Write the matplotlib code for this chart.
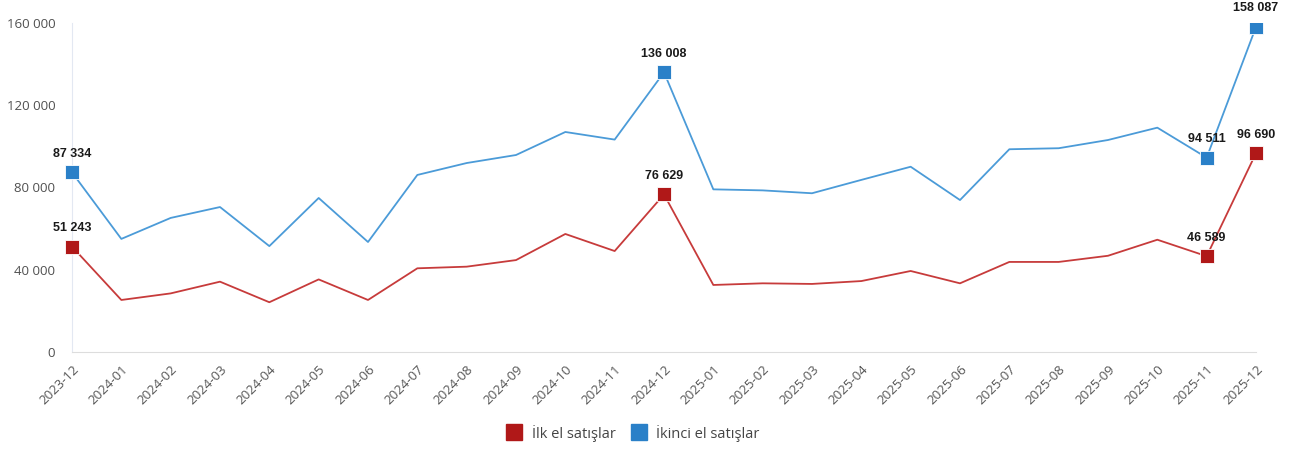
import matplotlib.pyplot as plt
import numpy as np
from matplotlib.lines import Line2D
from matplotlib.patches import Rectangle

months = ['2023-12', '2024-01', '2024-02', '2024-03', '2024-04', '2024-05', '2024-06',
          '2024-07', '2024-08', '2024-09', '2024-10', '2024-11', '2024-12', '2025-01',
          '2025-02', '2025-03', '2025-04', '2025-05', '2025-06', '2025-07', '2025-08',
          '2025-09', '2025-10', '2025-11', '2025-12']

ilk_el = [51243, 25300, 28500, 34200, 24200, 35300, 25300, 40700, 41500, 44700, 57400,
          49100, 76629, 32600, 33400, 33100, 34500, 39400, 33400, 43800, 43800, 46800,
          54600, 46589, 96690]

ikinci_el = [87334, 55000, 65200, 70500, 51500, 74900, 53500, 86100, 91900, 95800, 107000,
             103300, 136008, 79100, 78600, 77200, 83700, 90100, 73900, 98600, 99100, 103100,
             109100, 94511, 158087]

highlight = ['2023-12', '2024-12', '2025-11', '2025-12']
yticks = [0, 40000, 80000, 120000, 160000]

red_line, red_mark = '#c73b3b', '#b01818'
blue_line, blue_mark = '#4b9bd8', '#2a80c8'

fig = plt.figure(figsize=(13.01, 4.5), dpi=100)
ax = fig.add_axes([72/1301, 1 - 352/450, (1256 - 72)/1301, (352 - 23)/450])

x = np.arange(len(months))
ax.plot(x, ilk_el, color=red_line, lw=1.3)
ax.plot(x, ikinci_el, color=blue_line, lw=1.3)

# markers may spill left/right but get cut at the top edge
clip = Rectangle((-0.05, -0.05), 1.1, 1.05, transform=ax.transAxes, fill=False, visible=False)
ax.add_patch(clip)

def fmt(v):
    return f'{v:,}'.replace(',', ' ')

for m in highlight:
    i = months.index(m)
    for vals, col in ((ilk_el, red_mark), (ikinci_el, blue_mark)):
        mk, = ax.plot(i, vals[i], 's', ms=10, color=col, mec='#ffffff', mew=0.6, zorder=4)
        mk.set_clip_path(clip)
        ax.annotate(fmt(vals[i]), (i, vals[i]), xytext=(0, 9), textcoords='offset points',
                    ha='center', va='bottom', fontsize=9, fontweight='bold',
                    family='Liberation Sans', color='#1a1a1a', annotation_clip=False)

ax.set_xlim(0, len(months) - 1)
ax.set_ylim(0, 160000)
ax.set_xticks(x)
ax.set_xticklabels(months, rotation=45, ha='right', rotation_mode='anchor',
                   fontsize=9.5, color='#555555', family='Open Sans')
ax.set_yticks(yticks)
ax.set_yticklabels([fmt(v) for v in yticks], fontsize=9.5, color='#505050', family='Open Sans')
ax.tick_params(length=0)
ax.tick_params(axis='y', pad=12)
ax.tick_params(axis='x', pad=8)

for s in ('top', 'right'):
    ax.spines[s].set_visible(False)
ax.spines['left'].set_color('#e3e8f2')
ax.spines['bottom'].set_color('#dddddd')

handles = [Line2D([], [], ls='', marker='s', ms=11, color=red_mark, label='İlk el satışlar'),
           Line2D([], [], ls='', marker='s', ms=11, color=blue_mark, label='İkinci el satışlar')]
fig.legend(handles=handles, loc='center', bbox_to_anchor=(0.484, 1 - 433/450), ncol=2,
           frameon=False, prop={'family': 'Open Sans', 'size': 10.5},
           handletextpad=0.2, columnspacing=0.6, labelcolor='#444444')

fig.savefig('out.png', dpi=100)
